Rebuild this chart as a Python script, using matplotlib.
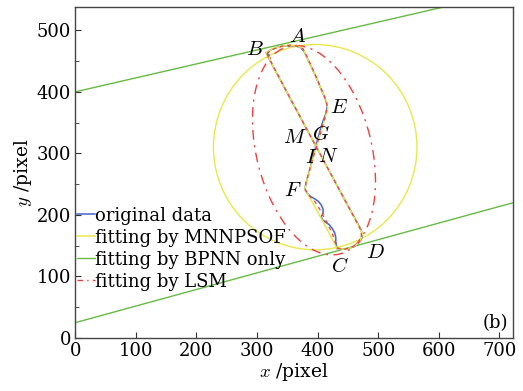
import matplotlib
matplotlib.use("Agg")
import matplotlib.pyplot as plt
from matplotlib.patches import Ellipse
from matplotlib.ticker import MultipleLocator

plt.rcParams['font.family'] = ['DejaVu Serif']
plt.rcParams['mathtext.fontset'] = 'cm'

# ---- data (pixel coordinates) ----
orig_x = [315, 322, 335, 350, 362, 372, 378, 386, 396, 405, 412, 416, 414, 408, 402, 397,
          392, 386, 381, 379, 382, 388, 395, 401, 406, 409, 409, 406, 408, 413, 419, 424,
          428, 430, 430, 431, 432, 440, 450, 460, 467, 471, 474, 472, 440, 410, 380, 350,
          318, 320, 315]
orig_y = [463, 468, 473, 475, 475, 472, 465, 448, 427, 406, 390, 378, 366, 350, 330, 312,
          292, 270, 252, 242, 236, 230, 226, 222, 216, 209, 202, 197, 192, 188, 184, 178,
          171, 163, 156, 150, 145, 144, 145, 148, 153, 158, 166, 175, 233, 288, 343, 398,
          457, 460, 463]

mnn_x = [315, 325, 340, 355, 368, 376, 384, 396, 406, 414, 417, 412, 404, 396, 388, 381,
         379, 392, 405, 418, 432, 442, 454, 464, 471, 474, 440, 410, 380, 350, 315]
mnn_y = [463, 470, 474, 476, 474, 470, 452, 427, 404, 386, 374, 356, 330, 304, 276, 252,
         242, 219, 196, 172, 145, 144, 146, 151, 159, 170, 233, 288, 343, 398, 463]

lsm_x = [316, 325, 340, 355, 368, 376, 385, 396, 406, 413, 416, 412, 404, 396, 388, 381,
         379, 385, 395, 404, 414, 424, 432, 444, 456, 466, 472, 472, 440, 410, 380, 350, 316]
lsm_y = [462, 469, 474, 476, 474, 470, 452, 428, 405, 388, 376, 357, 331, 305, 277, 253,
         242, 232, 222, 208, 190, 170, 146, 144, 147, 153, 162, 174, 233, 288, 343, 398, 462]

# fitted models
mnn_center = (396, 310)     # MNNPSOF ellipse
mnn_axes = (168, 167)       # semi-axes (x, y)
lsm_center = (394, 305)     # LSM ellipse
lsm_axes = (174, 95)        # semi-major, semi-minor
lsm_angle = 104.2           # degrees
bp_intercepts = [400, 24.5] # BPNN lines
bp_slopes = [0.227, 0.27]

point_names = ['A', 'B', 'E', 'M', 'G', 'I', 'N', 'F', 'C', 'D']
point_x = [367, 297, 435, 363, 406, 390, 418, 359, 437, 495]
point_y = [490, 469, 374, 325, 331, 293, 294, 240, 116, 139]

xticks = [0, 100, 200, 300, 400, 500, 600, 700]
yticks = [0, 100, 200, 300, 400, 500]

# ---- figure ----
fig = plt.figure(figsize=(5.23, 3.91), dpi=100)
fig.patch.set_facecolor('white')
ax = fig.add_axes([0.144, 0.1363, 0.8363, 0.8458])

blue = '#4466cc'
yellow = '#e8e84c'
green = '#66bb44'
red = '#ee4040'

for b, m in zip(bp_intercepts, bp_slopes):
    gl = ax.axline((0, b), slope=m, color=green, lw=1.0, zorder=2)
gl.set_label('fitting by BPNN only')

ax.add_patch(Ellipse(mnn_center, 2 * mnn_axes[0], 2 * mnn_axes[1], angle=0,
                     fill=False, ec=yellow, lw=1.0, zorder=2))
ax.add_patch(Ellipse(lsm_center, 2 * lsm_axes[0], 2 * lsm_axes[1], angle=lsm_angle,
                     fill=False, ec=red, lw=1.0, ls=(0, (7, 4, 1.5, 4)), zorder=2))

lb, = ax.plot(orig_x, orig_y, color=blue, lw=1.1, zorder=3, label='original data')
ly, = ax.plot(mnn_x, mnn_y, color=yellow, lw=1.1, zorder=4, label='fitting by MNNPSOF')
lr, = ax.plot(lsm_x, lsm_y, color=red, lw=0.9, ls=(0, (3, 3)), zorder=5)
lr2, = ax.plot([], [], color=red, lw=1.0, ls=(0, (4, 3, 1, 3)), label='fitting by LSM')

for n, x, y in zip(point_names, point_x, point_y):
    ax.text(x, y, '$' + n + '$', fontsize=15, ha='center', va='center', zorder=6)

ax.set_xlim(0, 722)
ax.set_ylim(0, 538)
ax.set_xticks(xticks)
ax.set_yticks(yticks)
ax.yaxis.set_minor_locator(MultipleLocator(50))
ax.tick_params(which='both', direction='in', labelsize=13, pad=3, color='#333333')
ax.tick_params(which='major', length=4)
ax.tick_params(which='minor', length=3)
for s in ax.spines.values():
    s.set_color('#444444')
    s.set_linewidth(1.0)

ax.set_xlabel('$x$ /pixel', fontsize=13.5, labelpad=1)
ax.set_ylabel('$y$ /pixel', fontsize=13.5, labelpad=2)

ax.text(0.99, 0.045, '(b)', transform=ax.transAxes, fontsize=13, ha='right', va='center')

leg = ax.legend(handles=[lb, ly, gl, lr2], loc='upper left', bbox_to_anchor=(0.003, 0.396),
                frameon=False, fontsize=13, handlelength=1.0, handletextpad=0.0,
                borderaxespad=0, borderpad=0, labelspacing=0.22)

fig.savefig('out.png', dpi=100, facecolor='white')
